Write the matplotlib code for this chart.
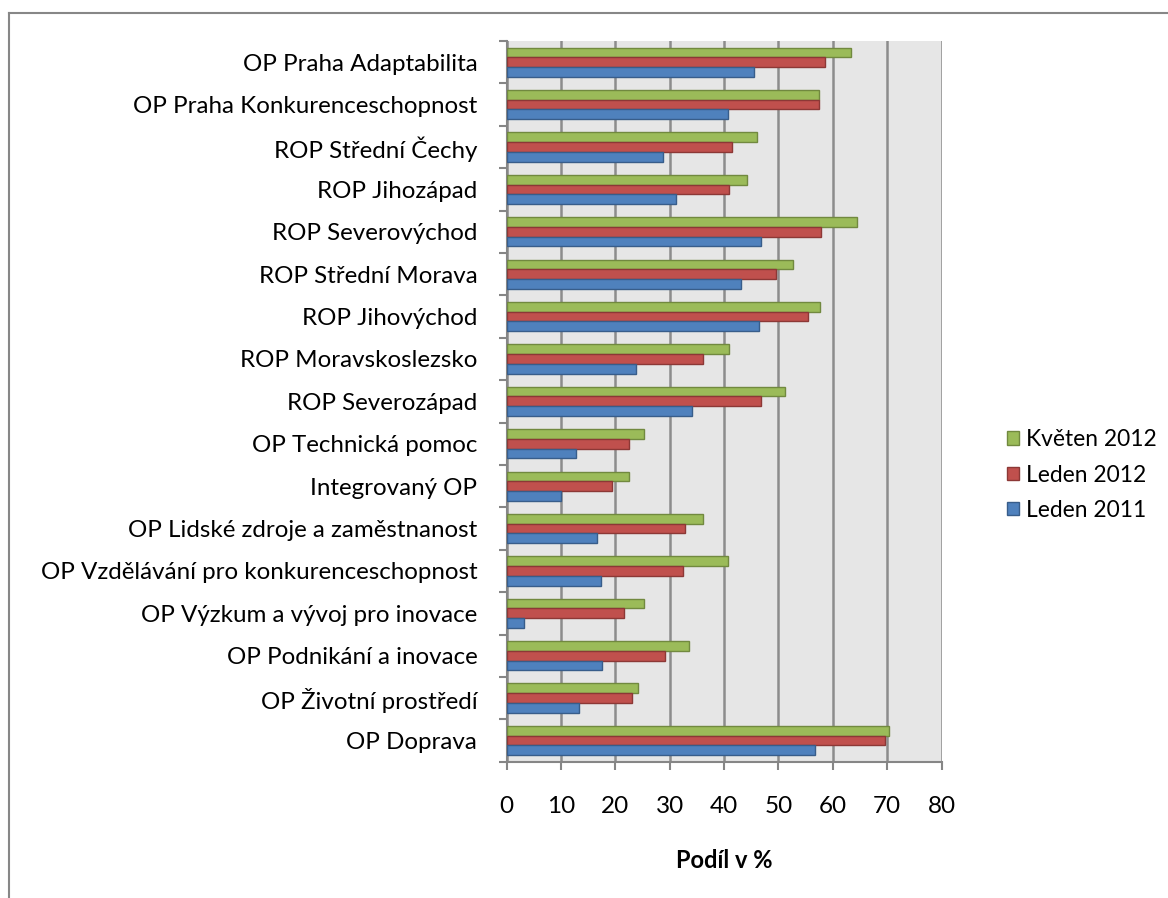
import numpy as np
import matplotlib
matplotlib.use('Agg')
import matplotlib.pyplot as plt
from matplotlib.lines import Line2D
from matplotlib.ticker import FixedLocator

plt.rcParams['font.family'] = ['Lato', 'DejaVu Sans']

# categories top -> bottom, as in the chart
categories = ['OP Praha Adaptabilita', 'OP Praha Konkurenceschopnost',
              'ROP Střední Čechy', 'ROP Jihozápad', 'ROP Severovýchod',
              'ROP Střední Morava', 'ROP Jihovýchod', 'ROP Moravskoslezsko',
              'ROP Severozápad', 'OP Technická pomoc', 'Integrovaný OP',
              'OP Lidské zdroje a zaměstnanost',
              'OP Vzdělávání pro konkurenceschopnost',
              'OP Výzkum a vývoj pro inovace', 'OP Podnikání a inovace',
              'OP Životní prostředí', 'OP Doprava']
kveten_2012 = [63.4, 57.5, 46.1, 44.3, 64.4, 52.7, 57.6, 41.0, 51.3,
               25.2, 22.5, 36.1, 40.7, 25.3, 33.5, 24.2, 70.3]
leden_2012 = [58.5, 57.4, 41.5, 41.0, 57.9, 49.6, 55.5, 36.2, 46.8,
              22.5, 19.4, 32.8, 32.5, 21.7, 29.1, 23.0, 69.6]
leden_2011 = [45.5, 40.8, 28.7, 31.2, 46.8, 43.2, 46.4, 23.9, 34.1,
              12.7, 10.0, 16.7, 17.4, 3.3, 17.6, 13.4, 56.8]
xticks = [0, 10, 20, 30, 40, 50, 60, 70, 80]

W, H = 1168, 898
fig = plt.figure(figsize=(W / 100, H / 100), dpi=100)
ax = fig.add_axes([506.5 / W, (H - 761.7) / H, 435 / W, (761.7 - 41) / H])

n = len(categories)
y = np.arange(n)[::-1]
bh = 0.23
series = [
    (kveten_2012, 'Květen 2012', '#9BBB59', '#71893F', bh),
    (leden_2012, 'Leden 2012', '#C0504D', '#8C3836', 0.0),
    (leden_2011, 'Leden 2011', '#4F81BD', '#385D8A', -bh),
]
for vals, lab, fc, ec, off in series:
    ax.barh(y + off, vals, height=bh, color=fc, edgecolor=ec, linewidth=1.0,
            label=lab, zorder=3)

ax.set_facecolor('#E6E6E6')
ax.set_xlim(0, 80)
ax.set_ylim(-0.5, n - 0.5)
ax.xaxis.set_major_locator(FixedLocator(xticks))
ax.grid(axis='x', color='#8C8C8C', linewidth=1.8, zorder=1)
ax.set_axisbelow(True)

ax.set_yticks(y)
ax.set_yticklabels(categories, fontsize=17.4)
ax.yaxis.set_minor_locator(FixedLocator(np.arange(-0.5, n, 1.0)))
ax.tick_params(axis='y', which='major', length=0, pad=21)
ax.tick_params(axis='y', which='minor', length=6, width=1.5, color='#868686')
ax.tick_params(axis='x', which='major', length=6, width=1.5, color='#868686',
               labelsize=17.5, pad=19)

for s in ['top', 'right']:
    ax.spines[s].set_visible(False)
for s in ['left', 'bottom']:
    ax.spines[s].set_color('#868686')
    ax.spines[s].set_linewidth(1.5)

ax.set_xlabel('Podíl v %', fontsize=17, fontweight='bold', labelpad=23)

handles, labels = ax.get_legend_handles_labels()
leg = fig.legend(handles, labels, loc='center left',
                 bbox_to_anchor=(986 / W, 1 - 475 / H), frameon=False,
                 fontsize=16.4, handlelength=0.55, handleheight=0.55,
                 handletextpad=0.3, labelspacing=0.62)

# chart border (top and left edges visible)
fig.add_artist(Line2D([9 / W, 1], [1 - 13 / H, 1 - 13 / H], color='#878787',
                      linewidth=1.5, transform=fig.transFigure))
fig.add_artist(Line2D([9 / W, 9 / W], [0, 1 - 13 / H], color='#878787',
                      linewidth=1.5, transform=fig.transFigure))

fig.savefig('out.png', dpi=100)
